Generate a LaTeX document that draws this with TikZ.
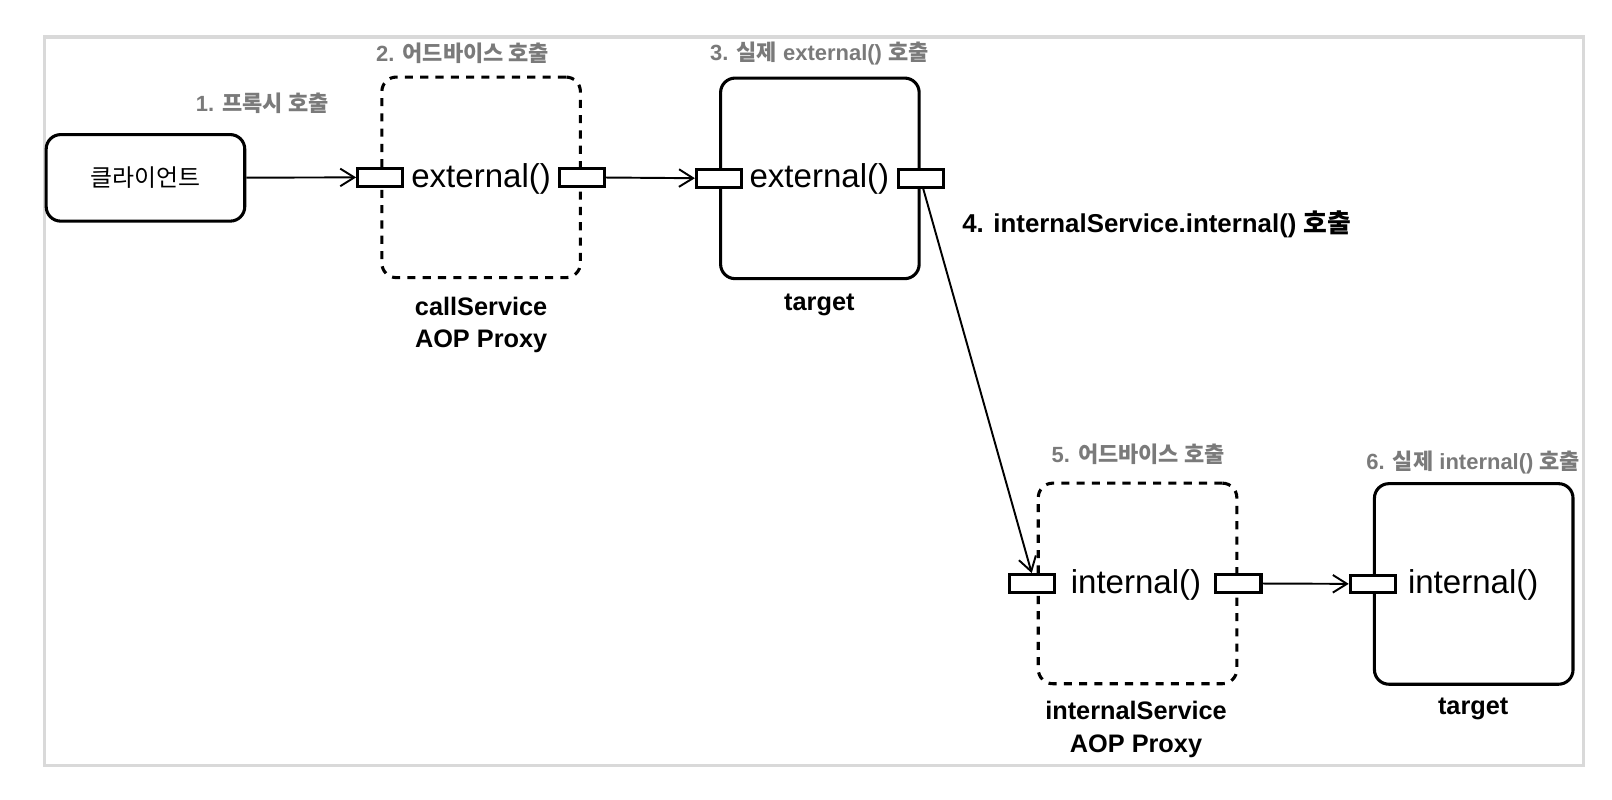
\documentclass[tikz,border=0pt]{standalone}
\usepackage{fontspec}
\setmainfont{Liberation Sans}
\newfontfamily\krfont{Noto Sans CJK KR}
\newcommand{\kr}[1]{{\krfont #1}}
\usetikzlibrary{arrows.meta,positioning}
\definecolor{framegray}{HTML}{D9D9D9}
\definecolor{labelgray}{HTML}{7A7A7A}
\tikzset{
  objbox/.style={draw, line width=1.75pt, rounded corners=0.29cm, minimum width=3.97cm, minimum height=4.01cm},
  proxybox/.style={objbox, dash pattern=on 4.6pt off 4.1pt},
  port/.style={draw, line width=1.75pt, fill=white, minimum width=0.905cm, minimum height=0.35cm, inner sep=0pt},
  method/.style={font=\fontsize{18.8}{21}\selectfont},
  calllabel/.style={text=labelgray, font=\bfseries\fontsize{12.5}{14}\selectfont},
  caption/.style={align=center, font=\bfseries\fontsize{14.4}{18.5}\selectfont},
  flow/.style={line width=1.1pt, -{Straight Barb[length=8pt,width=10pt]}},
}

\begin{document}
\begin{tikzpicture}[x=0.020561cm, y=-0.020561cm]
        \useasboundingbox (0,0) rectangle (1568,778);
        \draw[framegray, line width=1.75pt] (43,36) rectangle (1540,745);

        % client
        \node[objbox, minimum height=1.73cm] (client) at (141.5,173) {\kr{\fontsize{13.6}{15}\selectfont 클라이언트}};
        \node[calllabel] (lbl1) at (255,100) {1. \kr{프록시 호출}};

        % first proxy and target
        \node[proxybox] (proxyA) at (468,172.5) {};
        \node[objbox] (targetA) at (797.5,173.5) {};
        \node[method] (mA) at (468,174) {external()};
        \node[method] (mTA) at (797,174) {external()};
        \node[port] (pAin) at (proxyA.west) {};
        \node[port] (pAout) at (proxyA.east) {};
        \node[port] (tAin) at (targetA.west) {};
        \node[port] (tAout) at (targetA.east) {};
        \node[calllabel] (lbl2) at (450,52) {2. \kr{어드바이스 호출}};
        \node[calllabel] (lbl3) at (797,52) {3. \kr{실제} external() \kr{호출}};
        \node[caption] (capA) at (468,316) {callService\\AOP Proxy};
        \node[caption] (capTA) at (797,297) {target};

        % second proxy and target
        \node[proxybox] (proxyB) at (1106.5,567.5) {};
        \node[objbox] (targetB) at (1433.5,568) {};
        \node[method] (mB) at (1105,569) {internal()};
        \node[method] (mTB) at (1433,569) {internal()};
        \node[port] (pBin) at ([xshift=-0.1cm]proxyB.west) {};
        \node[port] (pBout) at (proxyB.east) {};
        \node[port] (tBin) at (targetB.west) {};
        \node[calllabel] (lbl5) at (1107,442) {5. \kr{어드바이스 호출}};
        \node[calllabel] (lbl6) at (1433,450) {6. \kr{실제} internal() \kr{호출}};
        \node[caption] (capB) at (1105,709.5) {internalService\\AOP Proxy};
        \node[caption] (capTB) at (1433,690) {target};

        % calls
        \draw[flow] (client) -- (pAin);
        \draw[flow] (pAout) -- (tAin);
        \draw[flow] ([xshift=0.05cm]tAout.south) -- (pBin.north);
        \draw[flow] (pBout) -- (tBin);
        \node[anchor=west, font=\bfseries\fontsize{14.7}{16}\selectfont] (lbl4) at (930,218) {4. internalService.internal() \kr{호출}};
      \end{tikzpicture}
\end{document}
